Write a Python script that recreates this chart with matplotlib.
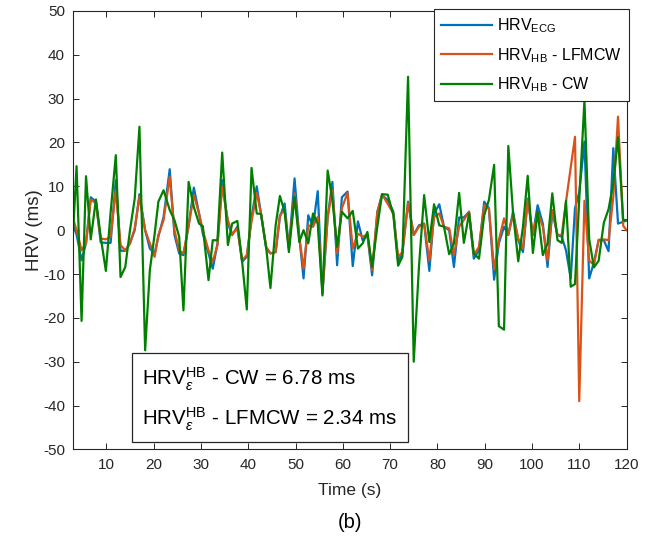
import matplotlib
matplotlib.use("Agg")
import matplotlib.pyplot as plt
from matplotlib.patches import Rectangle

plt.rcParams['font.family'] = ['Liberation Sans', 'DejaVu Sans']
plt.rcParams['mathtext.fontset'] = 'custom'
plt.rcParams['mathtext.rm'] = 'Liberation Sans'
plt.rcParams['mathtext.it'] = 'Liberation Sans:italic'
plt.rcParams['mathtext.bf'] = 'Liberation Sans:bold'
plt.rcParams['mathtext.sf'] = 'Liberation Sans'
plt.rcParams['axes.unicode_minus'] = False

# beat times (s)
t = [3.0, 3.7, 4.76, 5.7, 6.7, 7.8, 8.8, 9.9, 10.9, 12.0,
     13.0, 14.0, 15.0, 16.0, 17.0, 18.2, 19.2, 20.2, 21.0, 22.1,
     23.4, 24.4, 25.4, 26.3, 27.4, 28.5, 29.6, 30.4, 31.6, 32.5,
     33.5, 34.5, 35.7, 36.6, 37.7, 38.7, 39.7, 40.7, 41.8, 42.7,
     43.8, 44.7, 45.8, 46.7, 47.7, 48.6, 49.8, 50.8, 51.7, 52.7,
     53.7, 54.7, 55.7, 56.8, 57.8, 58.8, 59.8, 61.0, 62.1, 63.2,
     64.2, 65.2, 66.2, 67.3, 68.3, 69.5, 70.7, 71.7, 72.6, 73.8,
     75.0, 76.1, 77.2, 78.3, 79.3, 80.4, 81.4, 82.5, 83.5, 84.6,
     85.6, 86.7, 87.7, 88.8, 89.9, 90.9, 92.0, 93.0, 94.1, 95.0,
     96.0, 97.1, 98.1, 99.1, 100.2, 101.2, 102.3, 103.3, 104.3, 105.4,
     106.3, 107.2, 108.2, 109.1, 110.0, 111.1, 112.1, 113.1, 114.1, 115.2,
     116.2, 117.2, 118.2, 119.3, 120.0]

hrv_ecg = [1, -1, -6.9, -3, 7.5, 6.5, -2.8, -2.9, -2.9, 11.4,
           -4.7, -4.7, -3, 0, 8.2, 0, -4.2, -5.3, -1.5, 3,
           13.9, -1.1, -5.3, -5.7, 1, 9.7, 3.8, -0.8, -5.3, -8.8,
           -3, 11.4, 1.5, -1.1, 0.8, -7.2, -6.1, 3, 10, 3.8,
           -4.2, -5.3, -5, 3, 6.1, -4.2, 11.8, -1.5, -11, 3.4,
           0.8, 8.9, -14.5, 3, 11, -8, 7.5, 8.8, -8.2, 2,
           -2.3, -1.1, -10.3, 4.2, 8, 6.9, 4.2, -7.2, -5.3, 6.5,
           -1.1, 1.1, 1.5, -9.3, 3.8, 5.9, 0.8, 0, -8.4, 2.9,
           2.9, 4.2, -6.5, -4.6, 6.5, 5, -11.3, -3, 0.8, -1.1,
           4.2, -2.3, -5, 7.2, -1.1, 5.7, 1.5, -8.4, 4.2, -1.1,
           -1.5, -4.6, -11, 5, 8.6, 20.2, -11, -7.4, -2.3, -2.3,
           -4.8, 18.7, 1.5, 1.9, 2.2]

hrv_lfmcw = [2.5, 0, -4.6, -3, 7.0, 6.1, -1.9, -2.1, -1.5, 9.1,
             -3.4, -4.6, -3, 0.4, 7.6, 0, -3, -6.1, -1.1, 2.3,
             12.2, 0, -4.6, -5.3, 1, 8.0, 3.8, 0, -4.6, -7.2,
             -3.4, 9.9, 2.3, -0.9, 0.4, -6.9, -5.7, 2, 8.5, 3.8,
             -3.8, -5.3, -5, 3.4, 4.6, -4, 8.4, -1.5, -8.8, 1.1,
             0.8, 3, -14, 3, 9.1, -5.3, 5, 8.5, -4.2, -0.8,
             -1.5, -1, -9.1, 4, 8.2, 6, 3.8, -6.1, -5, 6.1,
             -1.1, 0.8, 1.5, -6.9, 3, 3.8, 0.8, 0.4, -5.7, 0.8,
             2.3, 4.2, -5.7, -3.8, 5.7, 4.9, -9, -2.3, 2.7, -0.9,
             3.4, -1.9, -4.2, 6.9, -0.9, 4, 0.8, -6.9, 4.6, -1.1,
             -1.1, 6.5, 14.3, 21.3, -39, 6.7, -6.9, -8, -2.2, -2.1,
             -2.3, 7.6, 25.9, 1.0, 0]

hrv_cw = [0, 14.6, -20.7, 12.3, -2.1, 7.0, -1.5, -9.3, 4, 17.1,
          -10.7, -8.4, 0, 7.2, 23.6, -27.4, -9.1, -1, 6.5, 9.1,
          4.6, 2.3, -1.5, -18.3, 11, 5.3, 1.5, 0.9, -11.4, -2.3,
          -2.3, 17.7, -3.4, 1.5, 2.1, -7, -18.1, 14.2, 3.8, 3.7,
          -4, -13.2, 1.1, 7.8, 4.2, -5, 7.6, -2.7, 0, -3,
          3.8, 1.5, -14.9, 13.6, 6.9, -3.8, 4.2, 2.7, 4.4, -4.2,
          -3, -0.4, -8.4, 0.8, 8.2, 8.1, 3.4, -8.1, -6.1, 35,
          -30, -8.4, 8, -2.7, 5.9, 1.1, 0.8, -5.5, -3, 8.5,
          -2.9, 3.8, -5.3, -6.5, 3.4, 6.9, 14.9, -21.9, -22.7, 19.2,
          4, -7.1, 0.8, 12.4, -5.2, 4.2, -5.7, -3, 8.4, -2.3,
          -2.9, 6.7, -12.9, -12.3, 7, 29.6, -2, -8.5, -7.0, 1.7,
          4.8, 10.7, 21.2, 2.3, 2.3]

legend_labels = [r"HRV$_{\mathrm{ECG}}$", r"HRV$_{\mathrm{HB}}$ - LFMCW", r"HRV$_{\mathrm{HB}}$ - CW"]
colors = ['#0072BD', '#D95319', '#008000']
xticks = list(range(10, 121, 10))
yticks = list(range(-50, 51, 10))

fig = plt.figure(figsize=(6.54, 5.48), dpi=100)
ax = fig.add_axes([0.112, 0.180, 0.846, 0.800])

for y, c, lab in zip([hrv_ecg, hrv_lfmcw, hrv_cw], colors, legend_labels):
    ax.plot(t, y, color=c, lw=1.6, label=lab)

ax.set_xlim(3, 120)
ax.set_ylim(-50, 50)
ax.set_xticks(xticks)
ax.set_yticks(yticks)
axcol = '#262626'
ax.tick_params(direction='in', top=True, right=True, length=4, width=0.7,
               colors=axcol, labelsize=11, pad=6)
for tl in ax.get_xticklabels() + ax.get_yticklabels():
    tl.set_color(axcol)
for s in ax.spines.values():
    s.set_color(axcol)
    s.set_linewidth(0.8)
ax.set_xlabel("Time (s)", fontsize=12.5, color=axcol, labelpad=8)
ax.set_ylabel("HRV (ms)", fontsize=13.5, color=axcol, labelpad=0)

leg = ax.legend(loc='upper right', bbox_to_anchor=(629/654, 1 - 9.3/548),
                bbox_transform=fig.transFigure, borderaxespad=0,
                fontsize=11.5, handlelength=3.2, handletextpad=0.3,
                labelspacing=0.68, borderpad=0.45, fancybox=False,
                framealpha=1, edgecolor=axcol)
leg.get_frame().set_linewidth(0.8)

# error text box
rect = Rectangle((132.3/654, 1 - 441.7/548), 276/654, 89/548,
                 transform=fig.transFigure, facecolor='white',
                 edgecolor=axcol, linewidth=0.9, zorder=5)
fig.patches.append(rect)
fig.text(141.7/654, 1 - 385/548, r"HRV$_{\epsilon}^{\mathrm{HB}}$ - CW = 6.78 ms",
         fontsize=14.8, va='baseline', ha='left', color='black', zorder=6)
fig.text(141.7/654, 1 - 425/548, r"HRV$_{\epsilon}^{\mathrm{HB}}$ - LFMCW = 2.34 ms",
         fontsize=14.8, va='baseline', ha='left', color='black', zorder=6)

fig.text(350/654, 1 - 522/548, "(b)", fontsize=14.5, ha='center', va='center', color='black')

fig.savefig("out.png", dpi=100)
